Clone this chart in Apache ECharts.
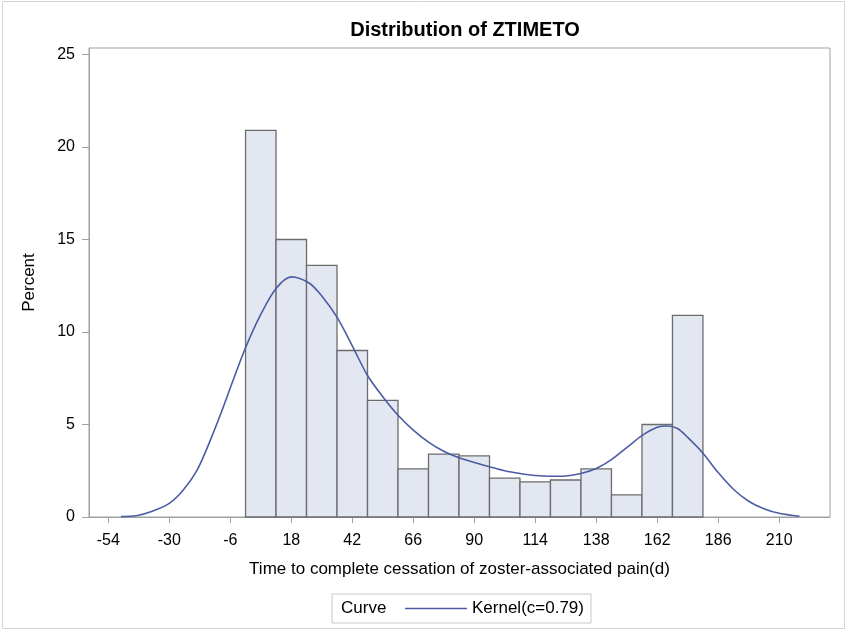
<!DOCTYPE html>
<html>
<head>
<meta charset="utf-8">
<script src="https://cdn.jsdelivr.net/npm/echarts@6/dist/echarts.min.js"></script>
<style>
  html, body { margin: 0; padding: 0; background: #fff; }
  #chart { width: 847px; height: 631px; }
</style>
</head>
<body>
<div id="chart"></div>
<script>
// Histogram bins (days): midpoints and a common width
const binMids = [6, 18, 30, 42, 54, 66, 78, 90, 102, 114, 126, 138, 150, 162, 174];
const binWidth = 12;
// Percent of patients in each bin
const binPercent = [20.9, 15.0, 13.6, 9.0, 6.3, 2.6, 3.4, 3.3, 2.1, 1.9, 2.0, 2.6, 1.2, 5.0, 10.9];

// Kernel density estimate, scaled to percent
const kernelX = [-49, -43, -37, -30, -24.5, -19, -14, -9, -5, 0, 6, 12, 18, 25, 30, 36, 42, 48, 54, 60, 66, 72, 78, 84, 90, 96, 102, 108, 114, 120, 126, 132, 138, 144, 150, 156, 162, 166, 170, 174, 180, 186, 192, 198, 204, 210, 218];
const kernelY = [0.02, 0.07, 0.3, 0.74, 1.46, 2.55, 4.1, 5.85, 7.35, 9.15, 10.95, 12.35, 12.98, 12.65, 11.95, 10.8, 9.25, 7.65, 6.5, 5.5, 4.7, 4.05, 3.55, 3.2, 2.95, 2.72, 2.5, 2.35, 2.24, 2.2, 2.22, 2.35, 2.62, 3.1, 3.75, 4.4, 4.85, 4.92, 4.78, 4.3, 3.45, 2.4, 1.5, 0.85, 0.45, 0.2, 0.04];

// Axis tick labels
const xTicks = [-54, -30, -6, 18, 42, 66, 90, 114, 138, 162, 186, 210];
const yTicks = [0, 5, 10, 15, 20, 25];

const FONT = "'Liberation Sans', Arial, sans-serif";
const AXIS_GRAY = '#a0a0a0';
const CURVE_BLUE = '#4b5ca3';

const chart = echarts.init(document.getElementById('chart'), null, { renderer: 'canvas' });

const barData = binMids.map((m, i) => [m - binWidth / 2, m + binWidth / 2, binPercent[i]]);
const kernelData = kernelX.map((x, i) => [x, kernelY[i]]);

chart.setOption({
  animation: false,
  backgroundColor: '#fff',
  textStyle: { fontFamily: FONT },
  title: {
    text: 'Distribution of ZTIMETO',
    left: 460,
    top: 15,
    textAlign: 'center',
    textStyle: { fontFamily: FONT, fontSize: 20, fontWeight: 'bold', color: '#000' }
  },
  graphic: [
    {
      type: 'rect',
      shape: { x: 2.5, y: 1.5, width: 842, height: 627 },
      style: { fill: 'none', stroke: '#d4d4d4', lineWidth: 1 },
      silent: true
    },
    {
      type: 'text',
      left: 341,
      top: 600,
      style: { text: 'Curve', fontFamily: FONT, fontSize: 17, fill: '#000' }
    }
  ],
  legend: {
    data: ['Kernel(c=0.79)'],
    left: 332,
    top: 594,
    orient: 'horizontal',
    icon: 'rect',
    itemWidth: 62,
    itemHeight: 1.5,
    padding: [6, 7, 6, 73],
    borderColor: '#c8c8c8',
    borderWidth: 1,
    textStyle: { fontFamily: FONT, fontSize: 17, color: '#000' }
  },
  grid: {
    left: 89, right: 17, top: 48, bottom: 114,
    show: true,
    borderColor: AXIS_GRAY,
    borderWidth: 1,
    containLabel: false
  },
  xAxis: {
    type: 'value',
    min: -61.6,
    max: 230,
    name: 'Time to complete cessation of zoster-associated pain(d)',
    nameLocation: 'middle',
    nameGap: 44,
    nameTextStyle: { fontFamily: FONT, fontSize: 17, color: '#000' },
    axisLine: { show: true, onZero: false, lineStyle: { color: AXIS_GRAY } },
    axisTick: { show: true, length: 6, lineStyle: { color: AXIS_GRAY }, customValues: xTicks },
    axisLabel: { fontFamily: FONT, fontSize: 16, color: '#000', margin: 16, customValues: xTicks },
    splitLine: { show: false }
  },
  yAxis: {
    type: 'value',
    min: 0,
    max: 25.35,
    name: 'Percent',
    nameLocation: 'middle',
    nameRotate: 90,
    nameGap: 51,
    nameTextStyle: { fontFamily: FONT, fontSize: 17, color: '#000' },
    axisLine: { show: true, onZero: false, lineStyle: { color: AXIS_GRAY } },
    axisTick: { show: true, length: 7, lineStyle: { color: AXIS_GRAY }, customValues: yTicks },
    axisLabel: { fontFamily: FONT, fontSize: 16, color: '#000', margin: 14, customValues: yTicks },
    splitLine: { show: false }
  },
  series: [
    {
      name: 'Histogram',
      type: 'custom',
      data: barData,
      encode: { x: [0, 1], y: 2 },
      renderItem: function (params, api) {
        const p0 = api.coord([api.value(0), api.value(2)]);
        const p1 = api.coord([api.value(1), 0]);
        return {
          type: 'rect',
          shape: { x: p0[0], y: p0[1], width: p1[0] - p0[0], height: p1[1] - p0[1] },
          style: { fill: '#e2e7f1', stroke: '#6c6c6c', lineWidth: 1.3 }
        };
      },
      z: 2
    },
    {
      name: 'Kernel(c=0.79)',
      type: 'line',
      data: kernelData,
      smooth: 0.3,
      symbol: 'none',
      lineStyle: { color: CURVE_BLUE, width: 1.6 },
      itemStyle: { color: CURVE_BLUE },
      z: 3
    }
  ]
});
</script>
</body>
</html>
